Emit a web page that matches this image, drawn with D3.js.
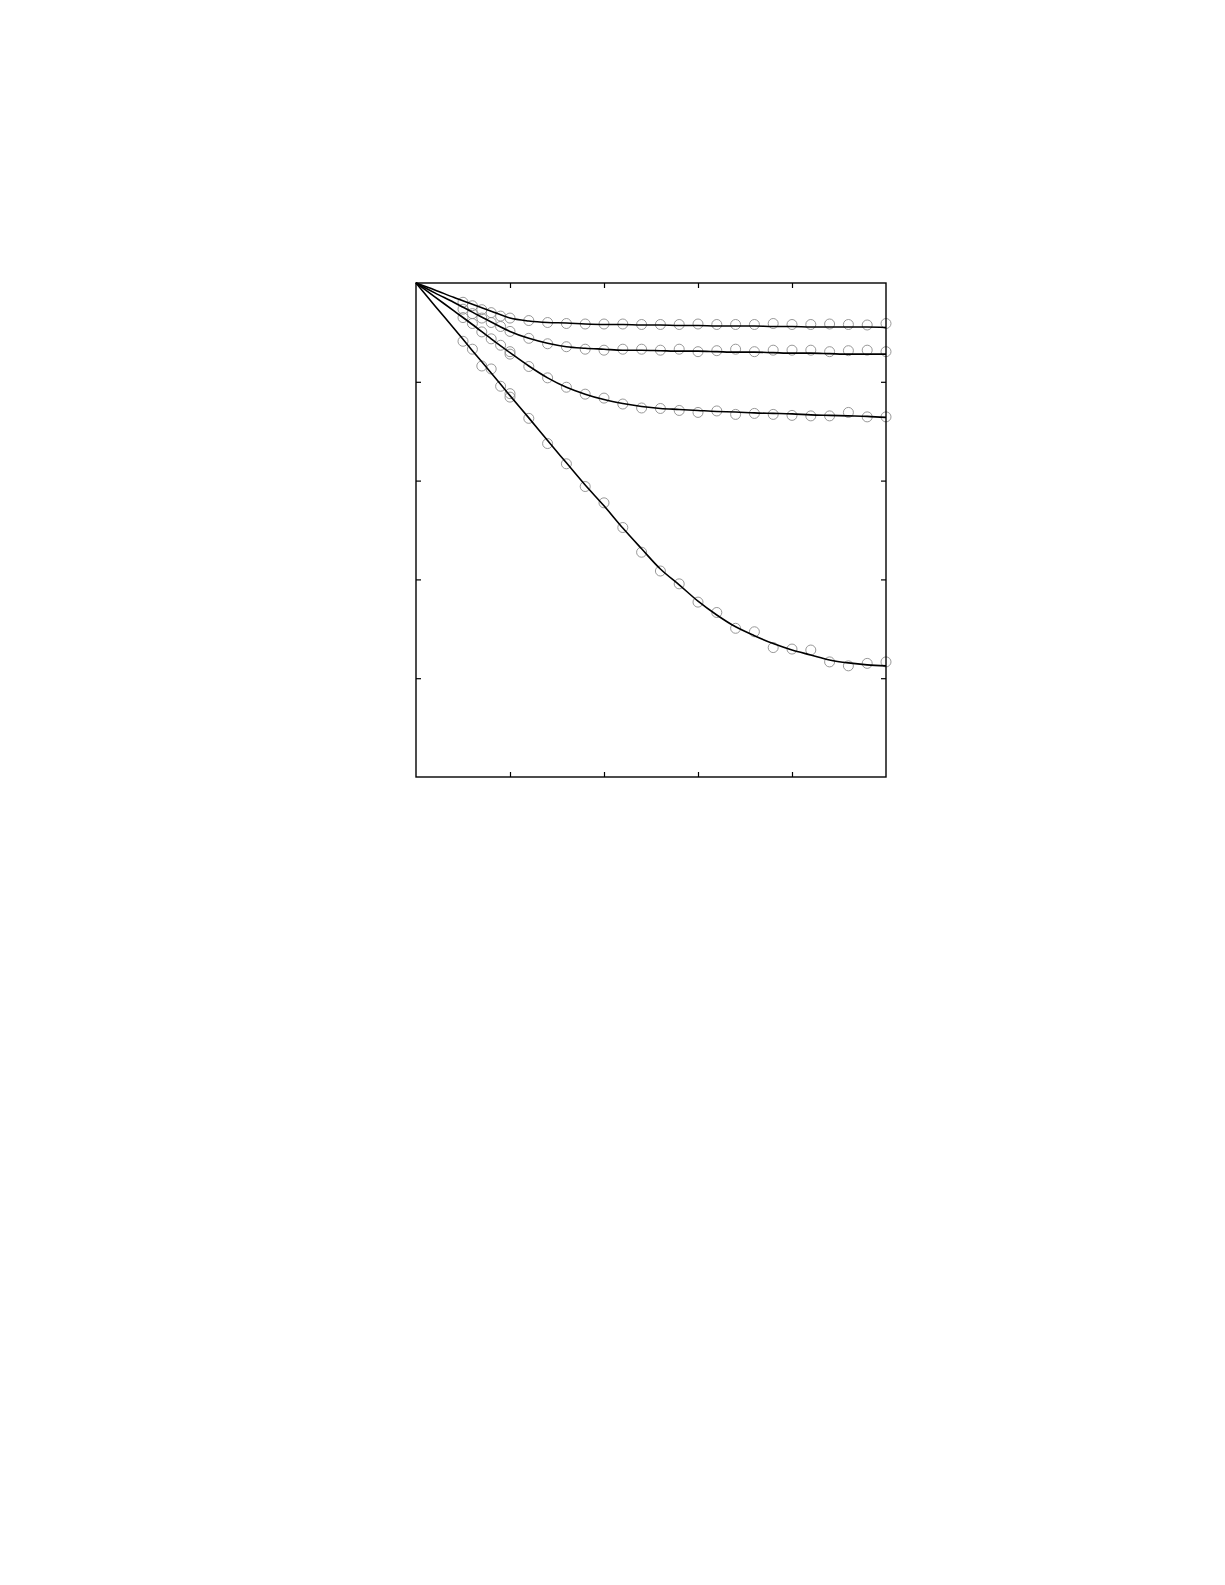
<!DOCTYPE html>
<html>
<head>
<meta charset="utf-8">
<script src="https://cdn.jsdelivr.net/npm/d3@7"></script>
<style>
  body { margin: 0; background: #fff; }
  svg { display: block; }
</style>
</head>
<body>
<div id="chart"></div>
<script>
// x positions of the measured points (dense at start, then one per unit)
var obsX = [2.5, 3, 3.5, 4, 4.5, 5, 6, 7, 8, 9, 10, 11, 12, 13, 14, 15, 16, 17, 18, 19, 20, 21, 22, 23, 24, 25];

// measured values, one array per curve (top to bottom)
var obs1 = [0.961, 0.954, 0.946, 0.940, 0.933, 0.929, 0.924, 0.920, 0.918, 0.917, 0.917, 0.917, 0.916, 0.916,
            0.916, 0.917, 0.916, 0.916, 0.916, 0.918, 0.916, 0.916, 0.917, 0.916, 0.915, 0.918];
var obs2 = [0.947, 0.938, 0.929, 0.920, 0.912, 0.902, 0.888, 0.877, 0.871, 0.866, 0.864, 0.866, 0.866, 0.864,
            0.866, 0.861, 0.863, 0.866, 0.861, 0.864, 0.864, 0.864, 0.861, 0.863, 0.864, 0.861];
var obs3 = [0.930, 0.918, 0.901, 0.887, 0.874, 0.861, 0.831, 0.808, 0.789, 0.775, 0.767, 0.755, 0.747, 0.746,
            0.742, 0.738, 0.741, 0.734, 0.736, 0.734, 0.732, 0.731, 0.731, 0.738, 0.729, 0.729];
var obs4 = [0.882, 0.866, 0.832, 0.826, 0.791, 0.776, 0.726, 0.675, 0.634, 0.588, 0.555, 0.505, 0.455, 0.417,
            0.391, 0.354, 0.333, 0.301, 0.294, 0.262, 0.259, 0.257, 0.233, 0.225, 0.230, 0.233];

// second reading at x = 5 for the two lower curves
var extraX = [5, 5];
var extraY = [0.856, 0.769];

// fitted curves, read at every unit of x
var fitX = [0, 1, 2, 3, 4, 5, 6, 7, 8, 9, 10, 11, 12, 13, 14, 15, 16, 17, 18, 19, 20, 21, 22, 23, 24, 25];
var fit1 = [1, 0.986, 0.971, 0.957, 0.943, 0.929, 0.923, 0.920, 0.919, 0.917, 0.916, 0.916, 0.915, 0.915,
            0.914, 0.914, 0.913, 0.913, 0.913, 0.912, 0.912, 0.911, 0.911, 0.911, 0.911, 0.910];
var fit2 = [1, 0.980, 0.961, 0.941, 0.921, 0.902, 0.888, 0.878, 0.871, 0.868, 0.866, 0.864, 0.864, 0.863,
            0.862, 0.862, 0.861, 0.860, 0.860, 0.859, 0.858, 0.858, 0.857, 0.856, 0.856, 0.856];
var fit3 = [1, 0.972, 0.944, 0.916, 0.887, 0.859, 0.832, 0.808, 0.789, 0.775, 0.764, 0.756, 0.750, 0.746,
            0.744, 0.742, 0.740, 0.739, 0.737, 0.736, 0.735, 0.733, 0.732, 0.731, 0.730, 0.728];
var fit4 = [1, 0.954, 0.909, 0.863, 0.818, 0.772, 0.727, 0.681, 0.636, 0.591, 0.549, 0.504, 0.462, 0.421,
            0.389, 0.356, 0.328, 0.304, 0.286, 0.270, 0.257, 0.247, 0.237, 0.231, 0.227, 0.225];

var xTicks = [5, 10, 15, 20];
var yTicks = [0.2, 0.4, 0.6, 0.8];

var margin = {top: 283, left: 416};
var width = 470, height = 494;

var svg = d3.select('#chart').append('svg')
  .attr('width', 1225)
  .attr('height', 1585);

var g = svg.append('g')
  .attr('transform', 'translate(' + margin.left + ',' + margin.top + ')');

var x = d3.scaleLinear().domain([0, 25]).range([0, width]);
var y = d3.scaleLinear().domain([0, 1]).range([height, 0]);

// inward ticks on all four sides, no labels
function tickAxis(axis, tx){
  var a = g.append('g')
    .attr('transform', tx)
    .call(axis.tickSizeInner(-5).tickSizeOuter(0).tickFormat(''));
  a.select('.domain').remove();
  a.selectAll('line').attr('stroke', '#000').attr('stroke-width', 1.2);
}
tickAxis(d3.axisBottom(x).tickValues(xTicks), 'translate(0,' + height + ')');
tickAxis(d3.axisTop(x).tickValues(xTicks), 'translate(0,0)');
tickAxis(d3.axisLeft(y).tickValues(yTicks), 'translate(0,0)');
tickAxis(d3.axisRight(y).tickValues(yTicks), 'translate(' + width + ',0)');

// points first so the lines sit on top
var allObs = [obs1, obs2, obs3, obs4];
allObs.forEach(function(vals){
  g.selectAll(null)
    .data(vals)
    .enter().append('circle')
    .attr('cx', function(d, i){ return x(obsX[i]); })
    .attr('cy', function(d){ return y(d); })
    .attr('r', 5)
    .attr('fill', 'none')
    .attr('stroke', '#8c8c8c')
    .attr('stroke-width', 0.9);
});
g.selectAll(null)
  .data(extraY)
  .enter().append('circle')
  .attr('cx', function(d, i){ return x(extraX[i]); })
  .attr('cy', function(d){ return y(d); })
  .attr('r', 5)
  .attr('fill', 'none')
  .attr('stroke', '#8c8c8c')
  .attr('stroke-width', 0.9);

var line = d3.line()
  .x(function(d, i){ return x(fitX[i]); })
  .y(function(d){ return y(d); })
  .curve(d3.curveMonotoneX);

[fit1, fit2, fit3, fit4].forEach(function(vals){
  g.append('path')
    .attr('d', line(vals))
    .attr('fill', 'none')
    .attr('stroke', '#000')
    .attr('stroke-width', 1.6);
});

// frame
g.append('rect')
  .attr('width', width)
  .attr('height', height)
  .attr('fill', 'none')
  .attr('stroke', '#000')
  .attr('stroke-width', 1.4);
</script>
</body>
</html>
